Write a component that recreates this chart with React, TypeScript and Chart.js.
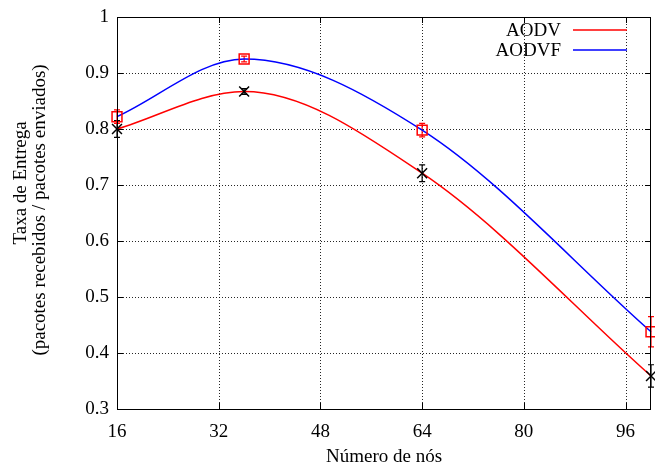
import React, { useEffect, useRef } from 'react';
import { Chart, registerables } from 'chart.js';

Chart.register(...registerables);

// ---- data ----
const nodes = [16, 36, 64, 100];
const aodv = [0.8, 0.867, 0.721, 0.359];
const aodvErr = [0.015, 0.005, 0.015, 0.02];
const aodvf = [0.822, 0.925, 0.798, 0.438];
const aodvfErr = [0.012, 0.005, 0.012, 0.027];
const seriesLabels = ['AODV', 'AODVF'];
const xTicks = [16, 32, 48, 64, 80, 96];
const yTicks = [0.3, 0.4, 0.5, 0.6, 0.7, 0.8, 0.9, 1];
const xTitle = 'Número de nós';
const yTitle = ['Taxa de Entrega', '(pacotes recebidos / pacotes enviados)'];

const FONT = "'Liberation Serif', 'Times New Roman', serif";
const FS = 19;

const gridPlugin = {
  id: 'dottedGrid',
  beforeDatasetsDraw(chart: any) {
    const { ctx, chartArea: a, scales } = chart;
    ctx.save();
    ctx.strokeStyle = 'rgba(0,0,0,0.85)';
    ctx.lineWidth = 1;
    ctx.setLineDash([1, 2]);
    ctx.beginPath();
    for (const v of xTicks) {
      const px = Math.round(scales.x.getPixelForValue(v)) + 0.5;
      ctx.moveTo(px, a.bottom);
      ctx.lineTo(px, a.top);
    }
    for (const v of yTicks) {
      const py = Math.round(scales.y.getPixelForValue(v)) + 0.5;
      ctx.moveTo(a.left, py);
      ctx.lineTo(a.right, py);
    }
    ctx.stroke();
    ctx.restore();
  },
};

const framePlugin = {
  id: 'frame',
  afterDatasetsDraw(chart: any) {
    const { ctx, chartArea: a, scales } = chart;
    ctx.save();
    ctx.strokeStyle = '#000';
    ctx.lineWidth = 1;
    ctx.setLineDash([]);
    ctx.strokeRect(Math.round(a.left) + 0.5, Math.round(a.top) + 0.5, Math.round(a.right - a.left) - 1, Math.round(a.bottom - a.top));
    const tl = 6;
    ctx.beginPath();
    for (const v of xTicks) {
      const px = Math.round(scales.x.getPixelForValue(v)) + 0.5;
      ctx.moveTo(px, a.bottom);
      ctx.lineTo(px, a.bottom - tl);
      ctx.moveTo(px, a.top);
      ctx.lineTo(px, a.top + tl);
    }
    for (const v of yTicks) {
      const py = Math.round(scales.y.getPixelForValue(v)) + 0.5;
      ctx.moveTo(a.left, py);
      ctx.lineTo(a.left + tl, py);
      ctx.moveTo(a.right, py);
      ctx.lineTo(a.right - tl, py);
    }
    ctx.stroke();
    ctx.restore();
  },
};

const errorBarPlugin = {
  id: 'errorBars',
  beforeDatasetsDraw(chart: any) {
    const { ctx, scales } = chart;
    chart.data.datasets.forEach((ds: any) => {
      if (!ds.errors) return;
      ctx.save();
      ctx.strokeStyle = ds.borderColor;
      ctx.lineWidth = 1.2;
      ctx.beginPath();
      ds.data.forEach((p: any, i: number) => {
        const e = ds.errors[i];
        const px = scales.x.getPixelForValue(p.x);
        const y1 = scales.y.getPixelForValue(p.y - e);
        const y2 = scales.y.getPixelForValue(p.y + e);
        ctx.moveTo(px, y1);
        ctx.lineTo(px, y2);
        ctx.moveTo(px - 3, y1);
        ctx.lineTo(px + 3, y1);
        ctx.moveTo(px - 3, y2);
        ctx.lineTo(px + 3, y2);
      });
      ctx.stroke();
      ctx.restore();
    });
  },
};

const legendPlugin = {
  id: 'gLegend',
  afterDraw(chart: any) {
    const { ctx } = chart;
    const lines = chart.data.datasets.filter((d: any) => d.isLine);
    ctx.save();
    ctx.font = `${FS}px ${FONT}`;
    ctx.fillStyle = '#000';
    ctx.textAlign = 'right';
    ctx.textBaseline = 'middle';
    lines.forEach((d: any, i: number) => {
      const y = 30 + i * 20;
      ctx.fillText(d.label, 561, y + 1);
      ctx.strokeStyle = d.borderColor;
      ctx.lineWidth = 1.5;
      ctx.beginPath();
      ctx.moveTo(573, y);
      ctx.lineTo(627, y);
      ctx.stroke();
    });
    ctx.restore();
  },
};

const yTitlePlugin = {
  id: 'yTitle',
  afterDraw(chart: any) {
    const { ctx } = chart;
    ctx.save();
    ctx.font = `${FS}px ${FONT}`;
    ctx.fillStyle = '#000';
    ctx.textAlign = 'center';
    ctx.textBaseline = 'middle';
    const pos = [
      [21, 183],
      [40, 210],
    ];
    yTitle.forEach((t, i) => {
      ctx.save();
      ctx.translate(pos[i][0], pos[i][1]);
      ctx.rotate(-Math.PI / 2);
      ctx.fillText(t, 0, 0);
      ctx.restore();
    });
    ctx.restore();
  },
};

export default function App() {
  const ref = useRef<HTMLCanvasElement>(null);

  useEffect(() => {
    const canvas = ref.current!;
    const pts = (ys: number[]) => nodes.map((x, i) => ({ x, y: ys[i] }));
    const chart = new Chart(canvas, {
      type: 'scatter',
      data: {
        datasets: [
          {
            label: seriesLabels[0] + ' pts',
            data: pts(aodv),
            errors: aodvErr,
            showLine: false,
            pointStyle: 'crossRot',
            pointRadius: 7,
            pointBorderWidth: 1.5,
            borderColor: '#000',
            backgroundColor: 'transparent',
            order: 0,
            clip: false,
          } as any,
          {
            label: seriesLabels[1] + ' pts',
            data: pts(aodvf),
            errors: aodvfErr,
            showLine: false,
            pointStyle: 'rect',
            pointRadius: 7,
            pointBorderWidth: 1.5,
            borderColor: '#ff0000',
            backgroundColor: 'transparent',
            order: 0,
            clip: false,
          } as any,
          {
            label: seriesLabels[0],
            isLine: true,
            data: pts(aodv),
            showLine: true,
            pointRadius: 0,
            borderColor: '#ff0000',
            borderWidth: 1.5,
            cubicInterpolationMode: 'monotone',
            order: 1,
            clip: false,
          } as any,
          {
            label: seriesLabels[1],
            isLine: true,
            data: pts(aodvf),
            showLine: true,
            pointRadius: 0,
            borderColor: '#0000ff',
            borderWidth: 1.5,
            cubicInterpolationMode: 'monotone',
            order: 1,
            clip: false,
          } as any,
        ],
      },
      options: {
        animation: false,
        responsive: false,
        devicePixelRatio: 1,
        layout: { autoPadding: false, padding: { top: 17, right: 4, left: 0, bottom: 0 } },
        plugins: {
          legend: { display: false },
          tooltip: { enabled: false },
        },
        scales: {
          x: {
            type: 'linear',
            min: 16,
            max: 100,
            afterBuildTicks: (s: any) => {
              s.ticks = xTicks.map((v) => ({ value: v }));
            },
            afterFit: (s: any) => {
              s.height = 59;
              s.paddingLeft = 0;
              s.paddingRight = 0;
            },
            grid: { display: false, drawTicks: false },
            border: { display: false },
            ticks: {
              font: { family: FONT, size: FS },
              color: '#000',
              padding: 12,
              maxRotation: 0,
              autoSkip: false,
            },
            title: {
              display: true,
              text: xTitle,
              font: { family: FONT, size: FS },
              color: '#000',
              padding: { top: 0, bottom: 0 },
            },
          },
          y: {
            type: 'linear',
            min: 0.3,
            max: 1,
            afterBuildTicks: (s: any) => {
              s.ticks = yTicks.map((v) => ({ value: v }));
            },
            afterFit: (s: any) => {
              s.width = 117;
              s.paddingTop = 0;
              s.paddingBottom = 0;
            },
            grid: { display: false, drawTicks: false },
            border: { display: false },
            ticks: {
              font: { family: FONT, size: FS },
              color: '#000',
              padding: 8,
              autoSkip: false,
              callback: (v: any) => String(Math.round(Number(v) * 10) / 10),
            },
          },
        },
      } as any,
      plugins: [gridPlugin, errorBarPlugin, framePlugin, legendPlugin, yTitlePlugin],
    });
    return () => chart.destroy();
  }, []);

  return (
    <div style={{ position: 'fixed', left: 0, top: 0, width: 655, height: 468, background: '#fff' }}>
      <canvas ref={ref} width={655} height={468} style={{ display: 'block', width: 655, height: 468 }} />
    </div>
  );
}
